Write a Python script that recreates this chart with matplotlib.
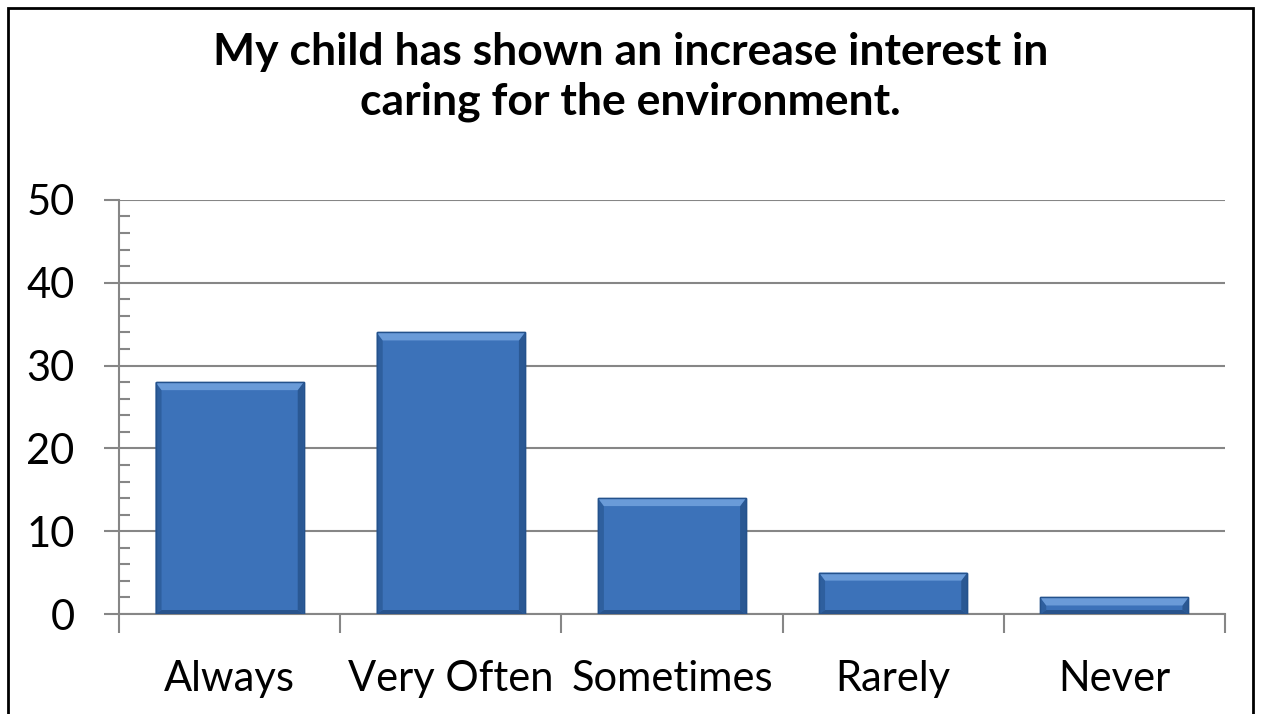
import matplotlib.pyplot as plt
from matplotlib.patches import Polygon, Rectangle
from matplotlib.ticker import MultipleLocator

# Data
categories = ["Always", "Very Often", "Sometimes", "Rarely", "Never"]
values = [28, 34, 14, 5, 2]

plt.rcParams['font.family'] = ['Lato', 'DejaVu Sans']

fig = plt.figure(figsize=(12.61, 7.14), dpi=100)
ax = fig.add_axes([0.0944, 0.140, 0.8770, 0.580])

x = range(len(categories))
bars = ax.bar(x, values, width=0.67, color="#3C72B9", edgecolor="#24528C",
              linewidth=1.0, zorder=3)

ax.set_xlim(-0.5, len(categories) - 0.5)
ax.set_ylim(0, 50)
ax.yaxis.set_major_locator(MultipleLocator(10))
ax.yaxis.set_minor_locator(MultipleLocator(2))
ax.grid(axis='y', which='major', color="#868686", linewidth=1.5, zorder=0)

for s in ['top', 'right']:
    ax.spines[s].set_visible(False)
for s in ['left', 'bottom']:
    ax.spines[s].set_color("#868686")
    ax.spines[s].set_linewidth(1.5)

ax.set_xticks([i - 0.5 for i in range(len(categories) + 1)], minor=True)
ax.set_xticks(list(x))
ax.set_xticklabels(categories, fontsize=30)
ax.tick_params(axis='x', which='major', length=0, pad=33)
ax.tick_params(axis='x', which='minor', length=14, width=1.5, color="#868686", direction='out')
ax.tick_params(axis='y', which='major', length=11, width=1.5, color="#868686",
               direction='out', labelsize=30, pad=21)
ax.tick_params(axis='y', which='minor', length=8, width=1.5, color="#868686", direction='in')

# bevel effect on the bars
fig.canvas.draw()
inv = ax.transData.inverted()
to_disp = ax.transData
for b in bars:
    x0, y0 = b.get_x(), b.get_y()
    x1, y1 = x0 + b.get_width(), y0 + b.get_height()
    (px0, py0) = to_disp.transform((x0, y0))
    (px1, py1) = to_disp.transform((x1, y1))
    d = min(8, (py1 - py0) / 2)
    s = 6
    def P(pts):
        return [inv.transform(p) for p in pts]
    top = P([(px0, py1), (px1, py1), (px1 - s, py1 - d), (px0 + s, py1 - d)])
    left = P([(px0, py0), (px0, py1), (px0 + s, py1 - d), (px0 + s, py0 + min(4, d))])
    right = P([(px1, py0), (px1, py1), (px1 - s, py1 - d), (px1 - s, py0 + min(4, d))])
    bottom = P([(px0, py0), (px1, py0), (px1 - s, py0 + min(4, d)), (px0 + s, py0 + min(4, d))])
    ax.add_patch(Polygon(left, closed=True, color="#2E5F9E", lw=0, zorder=4))
    ax.add_patch(Polygon(right, closed=True, color="#2A5893", lw=0, zorder=4))
    ax.add_patch(Polygon(bottom, closed=True, color="#28538C", lw=0, zorder=4))
    ax.add_patch(Polygon(top, closed=True, color="#6A9BD8", lw=0, zorder=4))
    ax.add_patch(Rectangle((x0, y0), x1 - x0, y1 - y0, fill=False,
                           edgecolor="#24528C", lw=1.0, zorder=5))

fig.text(0.5, 0.892, "My child has shown an increase interest in\ncaring for the environment.",
         ha='center', va='center', fontsize=32, fontweight='bold', linespacing=1.28)

# outer frame of the chart
fig.patches.append(Rectangle((0.0063, -0.05), 0.9874, 1.0388, transform=fig.transFigure,
                             fill=False, edgecolor='black', linewidth=2))

plt.savefig("out.png", dpi=100)
